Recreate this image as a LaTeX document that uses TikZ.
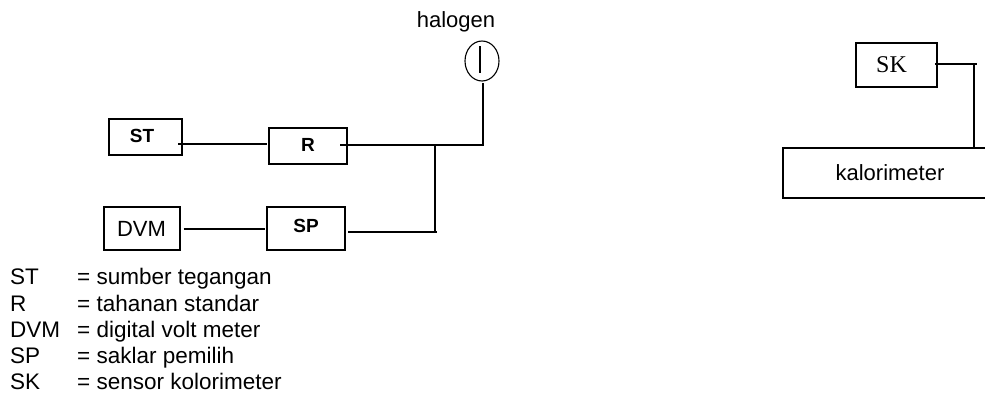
\documentclass[tikz,border=0pt]{standalone}
\usepackage{fontspec}
\setmainfont{Liberation Sans}
\newfontfamily\skfont{Liberation Serif}
\usetikzlibrary{shapes.geometric}
\begin{document}
\begin{tikzpicture}
[x = 1pt, y = -1pt,
 box/.style = {draw = black, line width = 1.5pt, inner sep = 0pt, font = \fontsize{22}{26}\selectfont},
 heavybox/.style = {box, line width = 2pt},
 smallbox/.style = {heavybox, font = \fontsize{19}{22}\selectfont\bfseries},
 lamp/.style = {draw = black, ellipse, line width = 1.1pt, inner sep = 0pt, minimum width = 34pt, minimum height = 40pt},
 wire/.style = {draw = black, line width = 2pt},
 legend/.style = {anchor = base west, inner sep = 0pt, font = \fontsize{22.5}{26}\selectfont}
 ]
\clip (0,0) rectangle (985,392);
\node [smallbox, minimum width = 73pt, minimum height = 36pt] (ST) at (145.5,137) {\hspace*{-7pt}\raisebox{2pt}{ST}};
\node [smallbox, minimum width = 78pt, minimum height = 36pt] (R) at (308,146) {\raisebox{2pt}{R}};
\node [heavybox, minimum width = 76pt, minimum height = 43pt] (DVM) at (141.5,228.5) {DVM};
\node [smallbox, minimum width = 78pt, minimum height = 43pt] (SP) at (306,228.5) {\raisebox{6pt}{SP}};
\node [lamp] (lamp) at (482,61) {};
\node [inner sep = 0pt, font = \fontsize{22}{26}\selectfont] (halogen) at (456,22) {halogen};
\node [box, font = \fontsize{24}{28}\selectfont\skfont, minimum width = 81pt, minimum height = 44pt] (SK) at (896.5,65) {\hspace*{-10pt}SK};
\node [box, minimum width = 214pt, minimum height = 50pt] (kalori) at (890,173) {kalorimeter};
% lamp
\coordinate (lamptop) at (480,46);
\coordinate (lampbot) at (480,73);
\draw [line width = 1.3pt] (lamptop) -- (lampbot);
% wires
\coordinate (halogenin) at (483,83);
\coordinate (rbus) at (483,145);
\coordinate (junction) at (435,145);
\coordinate (spbus) at (437,231.5);
\coordinate (spcorner) at (435,231.5);
\coordinate (skend) at (977,64);
\coordinate (skdrop) at (974,64);
\draw [wire] ([xshift = -5pt, yshift = -7pt]ST.east) -- ([xshift = -1pt, yshift = 2pt]R.west);
\draw [wire] ([xshift = -8pt, yshift = 1pt]R.east) -- (rbus) -- (halogenin);
\draw [wire] (junction) -- (spcorner);
\draw [wire] ([xshift = 2pt, yshift = -3pt]SP.east) -- (spbus);
\draw [wire] ([xshift = 3pt]DVM.east) -- ([xshift = -1pt]SP.west);
\draw [wire, line width = 1.4pt] ([xshift = -3pt, yshift = 1pt]SK.east) -- (skend);
\draw [wire, line width = 1.6pt] (skdrop) -- (skdrop |- kalori.north);
% legend
\node [legend] (STkey) at (10,284) {ST};
\node [legend] (Rkey) at (10,311) {R};
\node [legend] (DVMkey) at (10,337) {DVM};
\node [legend] (SPkey) at (10,363) {SP};
\node [legend] (SKkey) at (10,389) {SK};
\node [legend] (STtext) at (77,284) {= sumber tegangan};
\node [legend] (Rtext) at (77,311) {= tahanan standar};
\node [legend] (DVMtext) at (77,337) {= digital volt meter};
\node [legend] (SPtext) at (77,363) {= saklar pemilih};
\node [legend] (SKtext) at (77,389) {= sensor kolorimeter};
\end{tikzpicture}
\end{document}
